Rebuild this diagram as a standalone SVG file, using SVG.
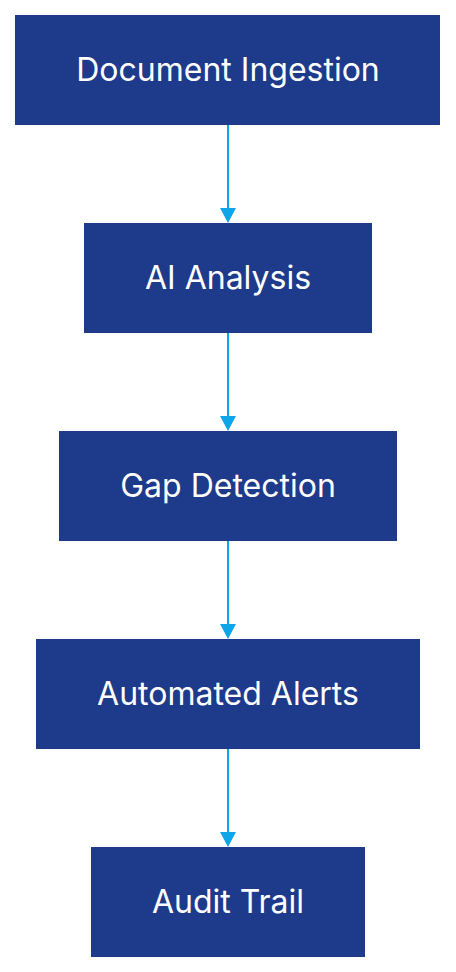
<svg xmlns="http://www.w3.org/2000/svg" width="456" height="972" viewBox="0 0 456 972">
<style>
.box{fill:#1e3a8a}
.lbl{fill:#ffffff;font-family:Inter,"Noto Sans",sans-serif;font-size:32px;text-anchor:middle}
.edge{stroke:#0ea5e9;stroke-width:2;fill:none}
.head{fill:#0ea5e9}
</style>
<rect width="456" height="972" fill="#ffffff"/>
<g id="connectors">
<line class="edge" x1="228" y1="125" x2="228" y2="210"/>
<path class="head" d="M220,208 L236,208 L228,223 Z"/>
<line class="edge" x1="228" y1="333" x2="228" y2="418"/>
<path class="head" d="M220,416 L236,416 L228,431 Z"/>
<line class="edge" x1="228" y1="541" x2="228" y2="626"/>
<path class="head" d="M220,624 L236,624 L228,639 Z"/>
<line class="edge" x1="228" y1="749" x2="228" y2="834"/>
<path class="head" d="M220,832 L236,832 L228,847 Z"/>
</g>
<g id="node1"><rect class="box" x="15" y="15" width="425" height="110"/><text class="lbl" x="228" y="81">Document Ingestion</text></g>
<g id="node2"><rect class="box" x="84" y="223" width="288" height="110"/><text class="lbl" x="228" y="289">AI Analysis</text></g>
<g id="node3"><rect class="box" x="59" y="431" width="338" height="110"/><text class="lbl" x="228" y="497">Gap Detection</text></g>
<g id="node4"><rect class="box" x="36" y="639" width="384" height="110"/><text class="lbl" x="228" y="705">Automated Alerts</text></g>
<g id="node5"><rect class="box" x="91" y="847" width="274" height="110"/><text class="lbl" x="228" y="913">Audit Trail</text></g>
</svg>
